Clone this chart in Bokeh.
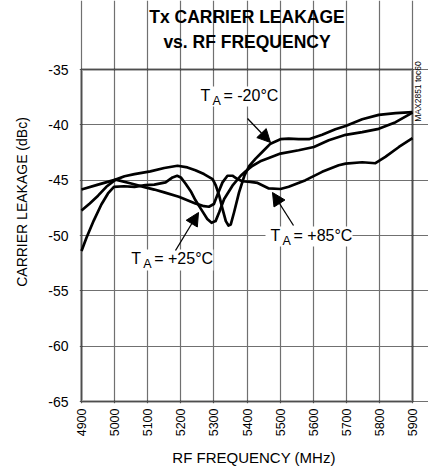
import math
from bokeh.plotting import figure
from bokeh.models import Range1d, FixedTicker, Label, Arrow, NormalHead, BoxAnnotation
from bokeh.embed import file_html
from bokeh.resources import INLINE

# ---------------- data ----------------
freq_m20 = [4900, 4925, 4950, 4975, 5003, 5030, 5060, 5108, 5150, 5190, 5220, 5244, 5270,
            5296, 5306, 5316, 5326, 5336, 5344, 5351, 5361, 5376, 5392, 5407, 5426, 5446,
            5471, 5501, 5526, 5556, 5587, 5627, 5667, 5698, 5748, 5798, 5849, 5900]
leak_m20 = [-47.75, -47.1, -46.4, -45.6, -44.95, -44.65, -44.45, -44.2, -43.9, -43.7, -43.85,
            -44.1, -44.45, -44.9, -45.5, -46.4, -47.6, -48.7, -49.1, -49.0, -47.9, -46.1,
            -44.6, -43.7, -43.05, -42.45, -41.7, -41.3, -41.24, -41.3, -41.3, -40.9, -40.4,
            -40.1, -39.5, -39.1, -38.95, -38.85]

freq_p25 = [4900, 4915, 4937, 4960, 4980, 4998, 5028, 5060, 5093, 5120, 5154, 5175, 5189,
            5200, 5214, 5230, 5244, 5265, 5280, 5293, 5305, 5316, 5331, 5356, 5381, 5396,
            5417, 5440, 5466, 5501, 5556, 5602, 5647, 5698, 5748, 5798, 5849, 5900]
leak_p25 = [-51.4, -50.2, -48.65, -47.2, -46.2, -45.6, -45.55, -45.6, -45.45, -45.4, -45.2,
            -44.75, -44.6, -44.75, -45.3, -46.0, -46.8, -47.8, -48.5, -48.85, -48.7, -47.9,
            -46.7, -45.5, -44.6, -44.2, -43.7, -43.3, -43.0, -42.6, -42.3, -42.0, -41.4,
            -40.9, -40.66, -40.36, -39.76, -38.9]

freq_p85 = [4900, 4950, 5003, 5050, 5093, 5120, 5150, 5194, 5244, 5270, 5285, 5300, 5311,
            5326, 5341, 5356, 5371, 5386, 5410, 5432, 5466, 5501, 5526, 5577, 5627, 5677,
            5698, 5748, 5788, 5818, 5859, 5900]
leak_p85 = [-45.85, -45.4, -44.95, -45.3, -45.65, -45.85, -46.1, -46.5, -47.1, -47.35, -47.4,
            -47.15, -46.3, -45.2, -44.6, -44.6, -44.9, -45.1, -45.15, -45.25, -45.75, -45.8,
            -45.6, -45.0, -44.25, -43.65, -43.5, -43.38, -43.47, -42.9, -42.0, -41.2]

x_ticks = [4900, 5000, 5100, 5200, 5300, 5400, 5500, 5600, 5700, 5800, 5900]
y_ticks = [-65, -60, -55, -50, -45, -40, -35]
y_tick_labels = ["-65", "-60", "-55", "-50", "-45", "-40", "-35"]

title_lines = ["Tx CARRIER LEAKAGE", "vs. RF FREQUENCY"]
x_title = "RF FREQUENCY (MHz)"
y_title = "CARRIER LEAKAGE (dBc)"
label_temps = ["= -20\u00b0C", "= +85\u00b0C", "= +25\u00b0C"]
note = "MAX2851 toc60"

# ---------------- layout (pixels of the page) ----------------
W, H = 428, 473
BOX_L, BOX_R, BOX_T, BOX_B = 81, 412, 69, 401     # the framed chart box
PAD = 2                                            # frame starts a bit outside the box
BL = BOX_L - PAD
BB = H - (BOX_B + PAD)
X0, X1 = x_ticks[0], x_ticks[-1]
Y0, Y1 = y_ticks[0], y_ticks[-1]
sx = (X1 - X0) / (BOX_R - BOX_L)   # data per pixel
sy = (Y1 - Y0) / (BOX_B - BOX_T)

x_start = X0 - PAD * sx
x_end = X1 + (W - BOX_R) * sx
y_start = Y0 - PAD * sy
y_end = Y1 + BOX_T * sy


def px(xp, yp):
    """page pixel -> data coordinates"""
    return X0 + (xp - BOX_L) * sx, Y1 - (yp - BOX_T) * sy


FONT = "Liberation Sans"

p = figure(width=W, height=H, x_range=Range1d(x_start, x_end), y_range=Range1d(y_start, y_end),
           output_backend="svg", toolbar_location=None, title=None,
           min_border=0, min_border_left=BL, min_border_right=0, min_border_top=0,
           min_border_bottom=BB)
p.outline_line_color = None
p.background_fill_color = "white"
p.border_fill_color = "white"

p.xaxis.ticker = FixedTicker(ticks=x_ticks)
p.yaxis.ticker = FixedTicker(ticks=y_ticks)
p.xgrid.ticker = FixedTicker(ticks=x_ticks)
p.ygrid.ticker = FixedTicker(ticks=y_ticks)
p.xgrid.bounds = (Y0, Y1)
p.ygrid.bounds = (X0, X1)
for g in (p.xgrid, p.ygrid):
    g.grid_line_color = "#707070"
    g.grid_line_width = 1.2

for ax in (p.xaxis, p.yaxis):
    ax.axis_line_color = None
    ax.major_tick_line_color = None
    ax.minor_tick_line_color = None
    ax.major_tick_out = 0
    ax.major_tick_in = 0
    ax.minor_tick_out = 0
    ax.minor_tick_in = 0
    ax.major_label_text_color = "black"
    ax.major_label_text_font = FONT
    ax.axis_label_text_color = "black"
    ax.axis_label_text_font_style = "normal"
    ax.axis_label_text_font = FONT

p.xaxis.major_label_text_font_size = "12.5px"
p.xaxis.major_label_orientation = math.pi / 2
p.xaxis.major_label_standoff = 5
p.xaxis.axis_label = x_title
p.xaxis.axis_label_text_font_size = "15px"
p.xaxis.axis_label_standoff = 10

p.yaxis.major_label_overrides = {t: s for t, s in zip(y_ticks, y_tick_labels)}
p.yaxis.major_label_text_font_size = "14px"
p.yaxis.major_label_standoff = 11
p.yaxis.axis_label = y_title
p.yaxis.axis_label_text_font_size = "14px"
p.yaxis.axis_label_standoff = 15

# white backgrounds behind the in-plot labels (cover grid lines)
for (xa, ya, xb, yb) in [(196, 86, 278, 106), (265, 226, 352, 246), (126, 249, 213, 270)]:
    l, t = px(xa, ya)
    r, b = px(xb, yb)
    p.add_layout(BoxAnnotation(left=l, right=r, top=t, bottom=b, fill_color="white",
                               fill_alpha=1, line_alpha=0, level="underlay"))

# curves
for fx, fy in [(freq_m20, leak_m20), (freq_p25, leak_p25), (freq_p85, leak_p85)]:
    p.line(fx, fy, line_color="black", line_width=2.7, line_join="round")

# chart box outline
p.add_layout(BoxAnnotation(left=X0, right=X1, bottom=Y0, top=Y1, fill_alpha=0,
                           line_color="black", line_width=3))

# title
for txt, yp in zip(title_lines, [16.5, 41.5]):
    xd, yd = px((BOX_L + BOX_R) / 2, yp)
    p.add_layout(Label(x=xd, y=yd, text=txt, text_font=FONT, text_font_size="17.5px",
                       text_font_style="bold", text_align="center", text_baseline="middle",
                       text_color="black"))

# T_A labels
for (xp, yp), temp in zip([(200, 95), (270, 235), (130.7, 258)], label_temps):
    xd, yd = px(xp, yp)
    p.add_layout(Label(x=xd, y=yd, text="T", text_font=FONT, text_font_size="16px",
                       text_align="left", text_baseline="middle", text_color="black"))
    p.add_layout(Label(x=xd, y=yd, x_offset=12, y_offset=-5, text="A", text_font=FONT,
                       text_font_size="12.5px", text_align="left", text_baseline="middle",
                       text_color="black"))
    p.add_layout(Label(x=xd, y=yd, x_offset=23, text=temp, text_font=FONT,
                       text_font_size="16px", text_align="left", text_baseline="middle",
                       text_color="black"))

# arrows
for (xs, ys, xe, ye) in [(247, 118, 270, 142), (293, 225, 272, 192), (175, 250, 198, 212)]:
    a, b = px(xs, ys)
    c, d = px(xe, ye)
    p.add_layout(Arrow(x_start=a, y_start=b, x_end=c, y_end=d, line_color="black",
                       line_width=1.3,
                       end=NormalHead(size=13, fill_color="black", line_color="black",
                                      line_width=1)))

# side note
xd, yd = px(417.5, 91)
p.add_layout(Label(x=xd, y=yd, text=note, angle=math.pi / 2, text_font=FONT,
                   text_font_size="8.5px", text_align="center", text_baseline="middle",
                   text_color="black"))

open("out.html", "w").write(file_html(p, INLINE))
